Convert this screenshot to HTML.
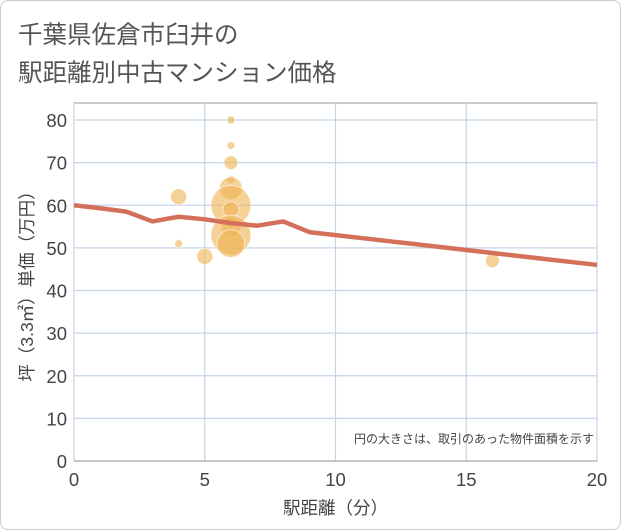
<!DOCTYPE html>
<html><head><meta charset="utf-8"><style>
body{margin:0;background:#fff;font-family:"Liberation Sans","Noto Sans CJK JP",sans-serif;}
#wrap{position:relative;width:619px;height:528px;border:1px solid #ccc;border-radius:8px;overflow:hidden;}
.title{position:absolute;left:17px;font-size:24.5px;color:#555;}
</style></head><body>
<div id="wrap">
<div class="title" style="top:15px">千葉県佐倉市臼井の</div>
<div class="title" style="top:53px">駅距離別中古マンション価格</div>
<svg id="chart" width="621" height="530" style="position:absolute;left:-1px;top:-1px"></svg>
</div>
<script>
const xTicks=[0,5,10,15,20];
const yTicks=[0,10,20,30,40,50,60,70,80];
const bubbleX=[6,6,6,6,6,6,6,6,6,6,4,4,5,16];
const bubbleY=[80,74,70,66,64,60,59,55,53,51,62,51,48,47];
const bubbleSize=[1,1,3,1,8,25,4,6,25,12,4,1,4,3];
const lineX=[0,1,2,3,4,5,6,7,8,9,10,11,12,13,14,15,16,17,18,19,20];
const lineY=[60,59.3,58.5,56.2,57.3,56.7,55.8,55.2,56.2,53.7,53,52.3,51.6,50.9,50.2,49.5,48.8,48.1,47.4,46.7,46];
const NS="http://www.w3.org/2000/svg";
const svg=document.getElementById('chart');
const L=74,R=597,T=103,B=461;
const sx=v=>L+(R-L)*v/20;
const sy=v=>B-(B-120)*v/80;
function mk(t,a,p){const e=document.createElementNS(NS,t);for(const k in a)e.setAttribute(k,a[k]);(p||svg).appendChild(e);return e;}
const plot=mk('rect',{x:L,y:T,width:R-L,height:B-T,fill:'#fff',stroke:'#999'});


yTicks.forEach(v=>{
 const g=mk('line',{x1:L,x2:R,y1:sy(v),y2:sy(v),stroke:'#c5d5e8','stroke-width':1.2});
 
 
 const t=mk('text',{x:L-7,y:sy(v)+7,'text-anchor':'end','font-size':18.5,fill:'#444'});
 t.textContent=v;
 
 
});
xTicks.forEach(v=>{
 const g=mk('line',{x1:sx(v),x2:sx(v),y1:T,y2:B,stroke:'#c5d5e8','stroke-width':1.2});
 
 
 const t=mk('text',{x:sx(v),y:B+25,'text-anchor':'middle','font-size':18.5,fill:'#444'});
 t.textContent=v;
 
 
});
mk('line',{x1:L,x2:R,y1:B,y2:B,stroke:'#999'});
bubbleX.forEach((x,i)=>{
 const c=mk('circle',{cx:sx(x),cy:sy(bubbleY[i]),r:4*Math.sqrt(bubbleSize[i]),fill:'rgba(238,178,80,0.6)',stroke:'rgba(255,255,255,0.6)'});
 
 
});
const pl=mk('polyline',{points:lineX.map((x,i)=>sx(x)+','+sy(lineY[i])).join(' '),fill:'none',stroke:'#d4705a','stroke-width':4.5,'stroke-linejoin':'round'});


const n=mk('text',{x:594,y:443,'text-anchor':'end','font-size':12,fill:'#444'});
n.textContent='円の大きさは、取引のあった物件面積を示す';


const xt=mk('text',{x:(L+R)/2,y:514,'text-anchor':'middle','font-size':17.5,fill:'#444'});
xt.textContent='駅距離（分）';


const yt=mk('text',{x:0,y:0,'text-anchor':'middle','font-size':17.5,fill:'#444',transform:'translate(33,282) rotate(-90)'});
yt.textContent='坪（3.3㎡）単価（万円）';


</script>
</body></html>
